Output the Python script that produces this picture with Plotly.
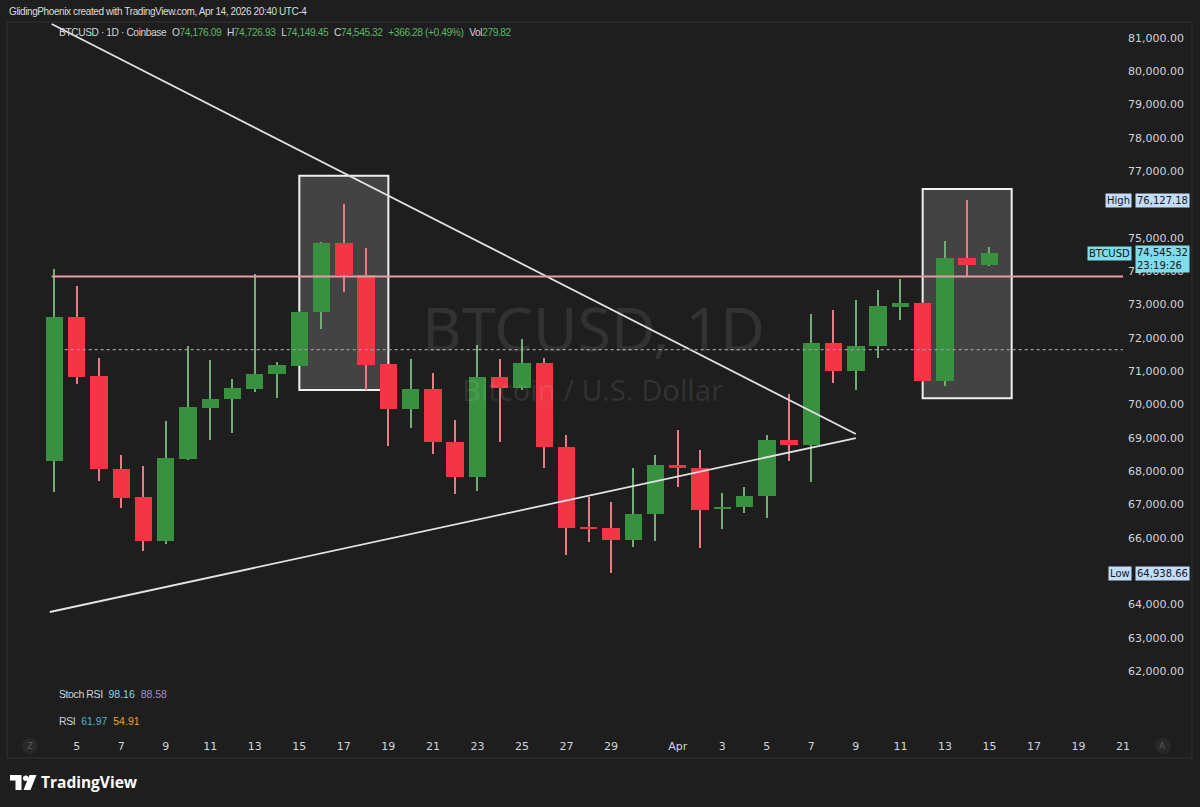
import plotly.graph_objects as go
import pandas as pd

# ---- candle data (Coinbase BTCUSD, 1D) ----
dates = pd.date_range('2026-03-04', '2026-04-15', freq='D')

opens = [68300, 72630, 70850, 68060, 67220, 65900, 68380, 69910, 70160, 70470,
         70910, 71170, 72780, 74850, 73900, 71210, 69860, 70460, 68880, 67810,
         70830, 70510, 71260, 68730, 66330, 66280, 65920, 66700,
         68180, 68080, 66870, 66910, 67250, 68950, 68790, 71860, 71010, 71760,
         72940, 73050, 70710, 74410, 74176.09]
highs = [74060, 73560, 71410, 68500, 68170, 69520, 71770, 71330, 70780, 73930,
         71280, 72820, 74880, 76010, 74690, 71230, 71360, 70950, 69550, 71780,
         71360, 71980, 71400, 69100, 67210, 67060, 68080, 68480,
         69250, 68630, 67330, 67510, 69080, 70330, 72730, 72850, 73130, 73450,
         73780, 73080, 74910, 76127.18, 74726.93]
lows = [67380, 70630, 67710, 66880, 65590, 65800, 68350, 68930, 69160, 70380,
        70210, 71150, 72260, 73380, 70430, 68750, 69310, 68530, 67310, 67400,
        68880, 70430, 68080, 65470, 65860, 64938.66, 65720, 65900,
        67510, 65680, 66250, 66750, 66580, 68310, 67680, 70660, 70430, 71410,
        72530, 70690, 70550, 73860, 74149.45]
closes = [72630, 70830, 68050, 67200, 65900, 68400, 69930, 70160, 70510, 70920,
          71190, 72780, 74850, 73880, 71200, 69860, 70460, 68880, 67810, 70830,
          70510, 71260, 68730, 66290, 66270, 65920, 66710, 68180,
          68080, 66830, 66910, 67260, 68950, 68790, 71860, 71010, 71760, 72950,
          73050, 70710, 74410, 74179.04, 74545.32]

last_volume = 279.82
stoch_rsi = [98.16, 88.58]
rsi = [61.97, 54.91]
countdown = '23:19:26'

# ---- drawings ----
falling_line_x = ['2026-03-03 21:00', '2026-04-09 00:00']
falling_line_y = [81420, 69115]
rising_line_x = ['2026-03-03 19:00', '2026-04-09 00:00']
rising_line_y = [63773, 68995]
resistance_level = 73840
resistance_start = '2026-03-03 21:00'
dotted_level = 71650
dotted_start = '2026-03-04 11:00'
boxes = [
    ('2026-03-15', '2026-03-19', 70435, 76868),
    ('2026-04-12', '2026-04-16', 70187, 76469),
]

# 65,000 and 76,000 sit under the High/Low labels on the price scale
y_ticks = [62000, 63000, 64000, 66000, 67000, 68000, 69000, 70000, 71000, 72000,
           73000, 74000, 75000, 77000, 78000, 79000, 80000, 81000]
x_tick_dates = ['2026-03-05', '2026-03-07', '2026-03-09', '2026-03-11', '2026-03-13',
                '2026-03-15', '2026-03-17', '2026-03-19', '2026-03-21', '2026-03-23',
                '2026-03-25', '2026-03-27', '2026-03-29', '2026-04-01', '2026-04-03',
                '2026-04-05', '2026-04-07', '2026-04-09', '2026-04-11', '2026-04-13',
                '2026-04-15', '2026-04-17', '2026-04-19', '2026-04-21']
x_tick_text = ['5', '7', '9', '11', '13', '15', '17', '19', '21', '23', '25', '27', '29',
               'Apr', '3', '5', '7', '9', '11', '13', '15', '17', '19', '21']

# ---- styling ----
BG = '#1e1e1e'
UP = '#38913f'
DOWN = '#f23645'
UP_WICK = '#72ad77'
DOWN_WICK = '#e67c85'
TEXT = '#d1d4dc'
SMALL = 'Liberation Sans, Arial, sans-serif'
SCALE_FONT = 'DejaVu Sans, sans-serif'
TIGHT = 'letter-spacing:-0.4px'

# plot area in pixels
L, R, T, B = 7, 1123, 22, 732


def px(x):
    return (x - L) / (R - L)


def py(y):
    return (B - y) / (B - T)


DAY_MS = 86400000
up = [c >= o for o, c in zip(opens, closes)]
body_lo = [min(o, c) for o, c in zip(opens, closes)]
body_h = [max(abs(c - o), 45) for o, c in zip(opens, closes)]
wick_h = [h - l for h, l in zip(highs, lows)]

fig = go.Figure()

# wicks first, bodies on top
fig.add_trace(go.Bar(
    x=dates, y=wick_h, base=lows, width=DAY_MS * 0.055,
    marker=dict(color=[UP_WICK if u else DOWN_WICK for u in up], line_width=0),
    hoverinfo='skip', showlegend=False
))
fig.add_trace(go.Bar(
    x=dates, y=body_h, base=body_lo, width=DAY_MS * 0.78,
    marker=dict(color=[UP if u else DOWN for u in up], line_width=0),
    customdata=list(zip(opens, highs, lows, closes)),
    hovertemplate='O %{customdata[0]:,.2f}<br>H %{customdata[1]:,.2f}<br>'
                  'L %{customdata[2]:,.2f}<br>C %{customdata[3]:,.2f}<extra></extra>',
    showlegend=False
))

# trend lines
for xs, ys in [(falling_line_x, falling_line_y), (rising_line_x, rising_line_y)]:
    fig.add_trace(go.Scatter(x=xs, y=ys, mode='lines',
                             line=dict(color='#e2e2e2', width=1.8),
                             hoverinfo='skip', showlegend=False))

x_end = '2026-04-21'
fig.add_trace(go.Scatter(x=[resistance_start, x_end], y=[resistance_level] * 2, mode='lines',
                         line=dict(color='#e39ea2', width=2), hoverinfo='skip', showlegend=False))
fig.add_trace(go.Scatter(x=[dotted_start, x_end], y=[dotted_level] * 2, mode='lines',
                         line=dict(color='#9a9a9a', width=1.3, dash='dot'),
                         hoverinfo='skip', showlegend=False))

shapes = []
for x0, x1, y0, y1 in boxes:
    shapes.append(dict(type='rect', xref='x', yref='y', x0=x0, x1=x1, y0=y0, y1=y1,
                       fillcolor='rgba(255,255,255,0.17)', line=dict(color='#f0f0f0', width=2),
                       layer='below'))

# panel frame
shapes.append(dict(type='rect', xref='paper', yref='paper', x0=px(7), x1=px(1192),
                   y0=py(758), y1=py(22), line=dict(color='#333333', width=1)))

# scroll buttons at the ends of the time scale
for cx in (30, 1163):
    shapes.append(dict(type='circle', xref='paper', yref='paper',
                       x0=px(cx - 8), x1=px(cx + 8), y0=py(754), y1=py(738),
                       fillcolor='#282828', line=dict(width=0)))


# TradingView logo mark
def path(points):
    return 'M' + ' L'.join(f'{px(x):.5f},{py(y):.5f}' for x, y in points) + ' Z'


shapes.append(dict(type='path', xref='paper', yref='paper', fillcolor='#ffffff', line_width=0,
                   path=path([(10, 775), (21.5, 775), (21.5, 790), (15.5, 790), (15.5, 780.5), (10, 780.5)])))
shapes.append(dict(type='circle', xref='paper', yref='paper', fillcolor='#ffffff', line_width=0,
                   x0=px(23), x1=px(28.5), y0=py(781), y1=py(775.5)))
shapes.append(dict(type='path', xref='paper', yref='paper', fillcolor='#ffffff', line_width=0,
                   path=path([(29.5, 775), (36.5, 775), (30.5, 790), (23.5, 790)])))

annotations = []


def note(x, y, text, size, color, family=SMALL, xanchor='left', **kw):
    annotations.append(dict(xref='paper', yref='paper', x=px(x), y=py(y), xanchor=xanchor,
                            yanchor='middle', showarrow=False, text=text,
                            font=dict(family=family, size=size, color=color), **kw))


# watermark
note(593, 327, 'BTCUSD, 1D', 61, 'rgba(255,255,255,0.09)', family='Noto Sans, sans-serif',
     xanchor='center')
note(592, 389, 'Bitcoin / U.S. Dollar', 29, 'rgba(255,255,255,0.09)',
     family='Noto Sans, sans-serif', xanchor='center')

# snapshot caption
note(7, 11, f"<span style='{TIGHT}'>GlidingPhoenix created with TradingView.com, "
            "Apr 14, 2026 20:40 UTC-4</span>", 10, '#dcdcdc')

# symbol legend
o, h, l, c = opens[-1], highs[-1], lows[-1], closes[-1]
chg = c - closes[-2]
pct = chg / closes[-2] * 100
val = '#5cb865'


def v(s):
    return f"<span style='color:{val};{TIGHT}'>{s}</span>"


def t(s):
    return f"<span style='{TIGHT}'>{s}</span>"


legend_text = (t('BTCUSD · 1D · Coinbase') + '  ' + t('O') + v(f'{o:,.2f}') + '  ' +
               t('H') + v(f'{h:,.2f}') + '  ' + t('L') + v(f'{l:,.2f}') + '  ' +
               t('C') + v(f'{c:,.2f}') + '  ' + v(f'{chg:+,.2f} ({pct:+.2f}%)') + '  ' +
               t('Vol') + v(f'{last_volume:,.2f}'))
note(57, 33, legend_text, 10.2, TEXT)

# indicator legends
note(57, 694, t('Stoch RSI') + "  <span style='color:#8fd3e0'>" + f'{stoch_rsi[0]:.2f}</span>  '
     "<span style='color:#a58fc9'>" + f'{stoch_rsi[1]:.2f}</span>', 10.5, TEXT)
note(57, 721, t('RSI') + "  <span style='color:#4fb3c8'>" + f'{rsi[0]:.2f}</span>  '
     "<span style='color:#f0a030'>" + f'{rsi[1]:.2f}</span>', 10.5, TEXT)

# scroll button letters
note(30, 746, 'Z', 9, '#5a5a5a', family=SCALE_FONT, xanchor='center')
note(1163, 746, 'A', 9, '#5a5a5a', family=SCALE_FONT, xanchor='center')

# TradingView wordmark
note(39, 782, '<b>TradingView</b>', 15.5, '#ffffff', family='Open Sans, sans-serif')

# price scale labels
hi = max(highs)
lo = min(lows)
LBL = '#c3dcf9'
for name, level in (('High', hi), ('Low', lo)):
    annotations.append(dict(xref='paper', yref='y', x=px(1132), y=level, xanchor='right',
                            yanchor='middle', showarrow=False, text=name, bgcolor=LBL,
                            borderpad=1, font=dict(family=SCALE_FONT, size=10, color='#131722')))
    annotations.append(dict(xref='paper', yref='y', x=px(1135), y=level, xanchor='left',
                            yanchor='middle', showarrow=False, text=f'{level:,.2f}', bgcolor=LBL,
                            borderpad=1, font=dict(family=SCALE_FONT, size=10, color='#131722')))

CUR = '#7fdcea'
annotations.append(dict(xref='paper', yref='y', x=px(1132), y=c, xanchor='right',
                        yanchor='middle', showarrow=False, text='BTCUSD', bgcolor=CUR, borderpad=1,
                        font=dict(family=SCALE_FONT, size=10, color='#131722')))
annotations.append(dict(xref='paper', yref='y', x=px(1135), y=c, xanchor='left', yanchor='top',
                        yshift=8, showarrow=False, text=f'{c:,.2f}<br>{countdown}',
                        bgcolor=CUR, borderpad=1, align='left',
                        font=dict(family=SCALE_FONT, size=10, color='#131722')))

y_top = 81000 + (38 - T) / 33.32 * 1000
y_bot = 81000 - (B - 38) / 33.32 * 1000
x_start = pd.Timestamp('2026-03-05') - pd.Timedelta(days=(76.7 - L) / 22.26)

fig.update_layout(
    width=1200, height=807,
    margin=dict(l=L, r=1200 - R, t=T, b=807 - B),
    paper_bgcolor=BG, plot_bgcolor=BG,
    barmode='overlay', bargap=0,
    showlegend=False,
    hovermode='closest',
    shapes=shapes,
    annotations=annotations,
    xaxis=dict(type='date', range=[x_start, x_end], showgrid=False, zeroline=False,
               showline=False, ticks='', tickvals=x_tick_dates, ticktext=x_tick_text,
               tickfont=dict(family=SCALE_FONT, size=11, color=TEXT),
               ticklabelstandoff=6, fixedrange=True),
    yaxis=dict(side='right', range=[y_bot, y_top], showgrid=False, zeroline=False,
               showline=False, ticks='', tickvals=y_ticks,
               ticktext=[f'{t:,.2f}' for t in y_ticks],
               tickfont=dict(family=SCALE_FONT, size=11, color=TEXT),
               ticklabelstandoff=4, fixedrange=True),
)

fig.write_html("out.html", config={'displayModeBar': False},
               post_script=f"document.body.style.margin='0';document.body.style.background='{BG}';")
